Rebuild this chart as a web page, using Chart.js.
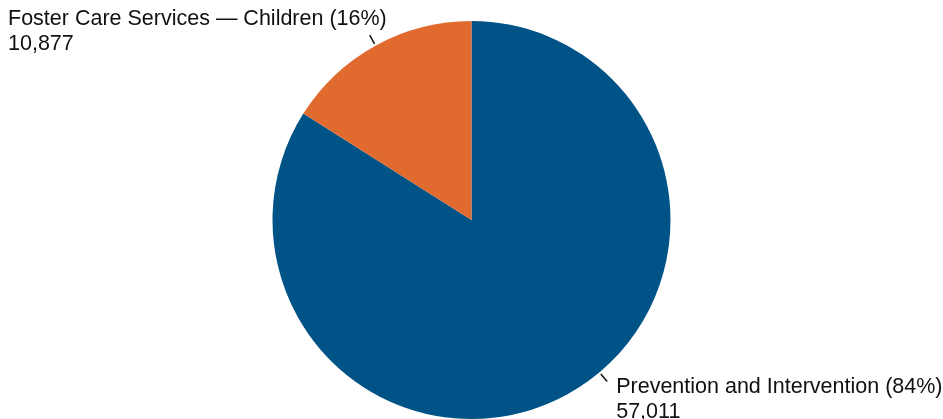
<!DOCTYPE html>
<html>
<head>
<meta charset="utf-8">
<title>Children served</title>
<script src="https://cdn.jsdelivr.net/npm/chart.js@4"></script>
<style>
  html, body { margin: 0; padding: 0; background: #fff; }
  #wrap { width: 943px; height: 419px; position: relative; }
</style>
</head>
<body>
<div id="wrap"><canvas id="pieChart"></canvas></div>
<script>
// Data
const categories = ['Prevention and Intervention', 'Foster Care Services \u2014 Children'];
const counts = [57011, 10877];
const colors = ['#005386', '#E16A2E'];
// where along each slice the leader line sits (0..1), and which side the text goes
const labelAnchor = [0.463, 0.5];
const labelSide = ['right', 'left'];

const total = counts.reduce((a, b) => a + b, 0);

function pct(v) {
    return Math.round(v / total * 100) + '%';
}

// Draw labels with short leader lines outside the pie
const outsideLabels = {
    id: 'outsideLabels',
    afterDatasetsDraw(chart) {
        const ctx = chart.ctx;
        const meta = chart.getDatasetMeta(0);
        ctx.save();
        ctx.font = '21.5px "Liberation Sans", Arial, sans-serif';
        ctx.fillStyle = '#111';
        ctx.strokeStyle = '#111';
        ctx.lineWidth = 1.5;
        meta.data.forEach((arc, i) => {
            const p = arc.getProps(['x', 'y', 'startAngle', 'endAngle', 'outerRadius'], true);
            const a = p.startAngle + (p.endAngle - p.startAngle) * labelAnchor[i];
            const x1 = p.x + Math.cos(a) * (p.outerRadius + 2);
            const y1 = p.y + Math.sin(a) * (p.outerRadius + 2);
            const x2 = p.x + Math.cos(a) * (p.outerRadius + 12);
            const y2 = p.y + Math.sin(a) * (p.outerRadius + 12);
            ctx.beginPath();
            ctx.moveTo(x1, y1);
            ctx.lineTo(x2, y2);
            ctx.stroke();

            const line1 = categories[i] + ' (' + pct(counts[i]) + ')';
            const line2 = counts[i].toLocaleString('en-US');
            const w = Math.max(ctx.measureText(line1).width, ctx.measureText(line2).width);
            ctx.textAlign = 'left';
            ctx.textBaseline = 'alphabetic';
            let left, base;
            if (labelSide[i] === 'right') {
                left = x2 + 9;
                base = y2 + 11;
            } else {
                left = Math.max(8, x2 + 16 - w);
                base = y2 - 10;
            }
            ctx.fillText(line1, left, base);
            ctx.fillText(line2, left, base + 25);
        });
        ctx.restore();
    }
};

new Chart(document.getElementById('pieChart'), {
    type: 'pie',
    data: {
        labels: categories,
        datasets: [{
            data: counts,
            backgroundColor: colors,
            borderWidth: 0
        }]
    },
    options: {
        responsive: true,
        maintainAspectRatio: false,
        animation: false,
        layout: { padding: { top: 21, bottom: 0, left: 0, right: 0 } },
        plugins: {
            legend: { display: false },
            tooltip: { enabled: false }
        }
    },
    plugins: [outsideLabels]
});
</script>
</body>
</html>
